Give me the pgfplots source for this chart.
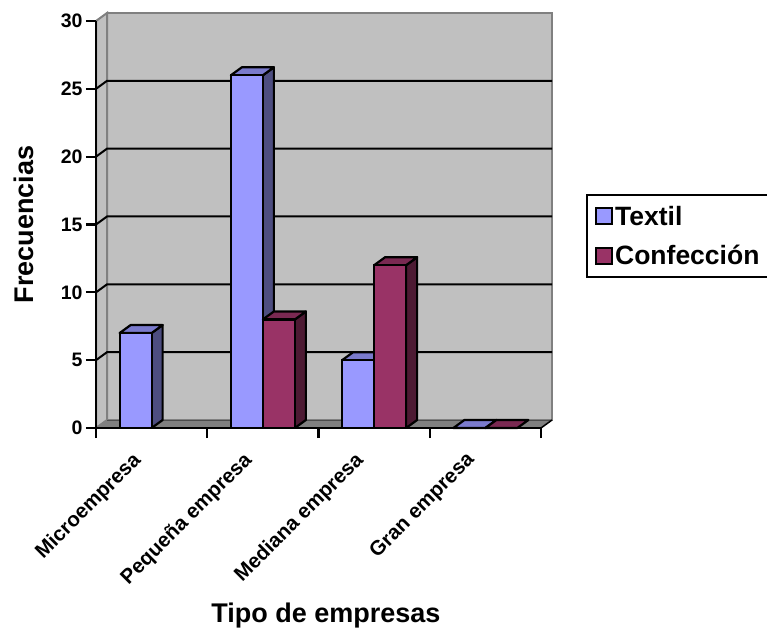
\documentclass[border=0pt]{standalone}
\usepackage{fontspec}
\setmainfont{Liberation Sans}
\usepackage{pgfplots}
\pgfplotsset{compat=1.18}
\definecolor{wall}{HTML}{C0C0C0}
\definecolor{floorgray}{HTML}{808080}
\definecolor{txfront}{HTML}{9999FF}
\definecolor{txside}{HTML}{4D4D80}
\definecolor{txtop}{HTML}{7A7ACC}
\definecolor{cofront}{HTML}{993366}
\definecolor{coside}{HTML}{4D1A33}
\definecolor{cotop}{HTML}{7A2952}
\begin{document}
\begin{tikzpicture}[x=1pt,y=1pt]
\useasboundingbox (0,0) rectangle (767,627);
\begin{axis}[
  at={(96pt,199pt)}, anchor=south west,
  scale only axis, width=445pt, height=407pt,
  xmin=0, xmax=4, ymin=0, ymax=30,
  clip=false, axis on top=true,
  axis lines=left,
  axis line style={-, line width=2.2pt, black},
  tick style={black, line width=2.2pt},
  tick align=outside,
  major tick length=10pt,
  xtick={0,1,2,3,4}, xticklabels={},
  ytick={0,5,10,15,20,25,30},
  /pgf/number format/assume math mode=true,
  yticklabel style={font=\fontsize{19.5}{19.5}\selectfont\bfseries},
  extra x ticks={0.5,1.5,2.5,3.5},
  extra x tick labels={Microempresa,Pequeña empresa,Mediana empresa,Gran empresa},
  extra x tick style={
    major tick length=0pt,
    tick label style={rotate=45, anchor=north east,
      font=\fontsize{20.5}{20.5}\selectfont\bfseries, xshift=-27pt, yshift=2pt}},
  xlabel={Tipo de empresas},
  ylabel={Frecuencias},
  every axis x label/.style={at={(axis cs:2.067,-13.85)}, anchor=center,
    font=\fontsize{27}{27}\selectfont\bfseries},
  every axis y label/.style={at={(axis cs:-0.65,15)}, anchor=center, rotate=90,
    font=\fontsize{27}{27}\selectfont\bfseries},
  legend style={at={(axis cs:4.405,17.25)}, anchor=north west,
    draw=black, line width=2.2pt, inner xsep=8pt, inner ysep=9pt,
    font=\fontsize{26.5}{26.5}\selectfont\bfseries, row sep=14.5pt,
    cells={anchor=west}, /tikz/column 2/.style={column sep=4pt}},
  legend image code/.code={
    \draw[#1, draw=black, line width=2pt] (0pt,-8pt) rectangle (16pt,8pt);},
]
% Walls and floor of the chart box
\addplot[forget plot, draw=floorgray, line width=2pt, fill=wall] coordinates
  {(0.099,0.59) (4.099,0.59) (4.099,30.59) (0.099,30.59)} -- cycle;
\addplot[forget plot, draw=floorgray, line width=2pt, fill=wall] coordinates
  {(0,0) (0.099,0.59) (0.099,30.59) (0,30)} -- cycle;
\addplot[forget plot, draw=none, fill=floorgray] coordinates
  {(0,0) (4,0) (4.099,0.59) (0.099,0.59)} -- cycle;
\addplot[forget plot, color=black!70, line width=1pt] coordinates {(0.099,0.59) (4.099,0.59)};
\addplot[forget plot, black, line width=1.5pt] coordinates {(4,0) (4.099,0.59)};
% Gridlines run across the left wall and the back wall
\addplot[forget plot, black, line width=2pt] coordinates {(0,5) (0.099,5.59) (4.099,5.59)};
\addplot[forget plot, black, line width=2pt] coordinates {(0,10) (0.099,10.59) (4.099,10.59)};
\addplot[forget plot, black, line width=2pt] coordinates {(0,15) (0.099,15.59) (4.099,15.59)};
\addplot[forget plot, black, line width=2pt] coordinates {(0,20) (0.099,20.59) (4.099,20.59)};
\addplot[forget plot, black, line width=2pt] coordinates {(0,25) (0.099,25.59) (4.099,25.59)};
% Textil: sides, tops, then the fronts
\pgfplotsset{face/.style={forget plot, draw=black, line width=2.2pt, line join=round}}
\addplot[face, fill=txside] coordinates {(0.5,0) (0.599,0.59) (0.599,7.59) (0.5,7)} -- cycle;
\addplot[face, fill=txtop] coordinates {(0.2125,7) (0.5,7) (0.599,7.59) (0.3115,7.59)} -- cycle;
\addplot[face, fill=txside] coordinates {(1.5,0) (1.599,0.59) (1.599,26.59) (1.5,26)} -- cycle;
\addplot[face, fill=txtop] coordinates {(1.2125,26) (1.5,26) (1.599,26.59) (1.3115,26.59)} -- cycle;
\addplot[face, fill=txside] coordinates {(2.5,0) (2.599,0.59) (2.599,5.59) (2.5,5)} -- cycle;
\addplot[face, fill=txtop] coordinates {(2.2125,5) (2.5,5) (2.599,5.59) (2.3115,5.59)} -- cycle;
\addplot[face, fill=txtop] coordinates {(3.2125,0) (3.5,0) (3.599,0.59) (3.3115,0.59)} -- cycle;
\addplot[ybar, bar width=0.2875, bar shift=-0.14375, draw=black, line width=2.2pt, fill=txfront]
  coordinates {(0.5,7) (1.5,26) (2.5,5) (3.5,0)};
\addlegendentry{Textil}
% Confección: no bar in the first category
\addplot[face, fill=coside] coordinates {(1.7875,0) (1.8865,0.59) (1.8865,8.59) (1.7875,8)} -- cycle;
\addplot[face, fill=cotop] coordinates {(1.5,8) (1.7875,8) (1.8865,8.59) (1.599,8.59)} -- cycle;
\addplot[face, fill=coside] coordinates {(2.7875,0) (2.8865,0.59) (2.8865,12.59) (2.7875,12)} -- cycle;
\addplot[face, fill=cotop] coordinates {(2.5,12) (2.7875,12) (2.8865,12.59) (2.599,12.59)} -- cycle;
\addplot[face, fill=cotop] coordinates {(3.5,0) (3.7875,0) (3.8865,0.59) (3.599,0.59)} -- cycle;
\addplot[ybar, bar width=0.2875, bar shift=0.14375, draw=black, line width=2.2pt, fill=cofront]
  coordinates {(1.5,8) (2.5,12) (3.5,0)};
\addlegendentry{Confección}
\end{axis}
\end{tikzpicture}
\end{document}
